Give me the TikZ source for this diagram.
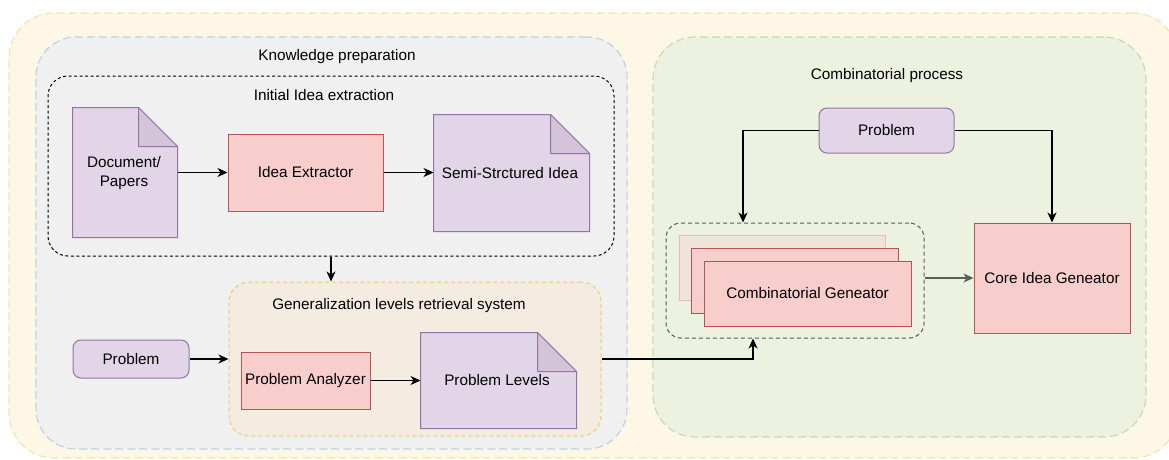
\documentclass[tikz,border=0pt]{standalone}
\usepackage{fontspec}
\setmainfont{Liberation Sans}
\usetikzlibrary{arrows.meta}
\definecolor{yfill}{HTML}{FEF7E6}
\definecolor{ydraw}{HTML}{F3E3B5}
\definecolor{gfill}{HTML}{EFF0EF}
\definecolor{gdraw}{HTML}{C3D1E6}
\definecolor{ofill}{HTML}{F5ECE1}
\definecolor{odraw}{HTML}{F1C86E}
\definecolor{grfill}{HTML}{ECF1E0}
\definecolor{grdraw}{HTML}{C6DDB0}
\definecolor{pfill}{HTML}{E1D5E7}
\definecolor{pdraw}{HTML}{9673A6}
\definecolor{pfold}{HTML}{D3C4DA}
\definecolor{rfill}{HTML}{F8CECC}
\definecolor{rdraw}{HTML}{B85450}
\definecolor{bfill}{HTML}{F0E3DA}
\definecolor{bdraw}{HTML}{E3BEB8}
\definecolor{arrgray}{HTML}{56635A}
\begin{document}
\begin{tikzpicture}[x=1pt,y=-1pt,
  font=\fontsize{15.3}{19.5}\selectfont,
  box/.style={rectangle, inner sep=0pt, line width=1pt},
  container/.style={box, dash pattern=on 8pt off 4pt, line width=1.2pt},
  redbox/.style={box, draw=rdraw, fill=rfill},
  purplebox/.style={box, draw=pdraw, fill=pfill, rounded corners=8pt},
  docnode/.style={box},
  title/.style={inner sep=0pt, text=black},
  arr/.style={-{Stealth[length=10pt,width=9pt,inset=3pt]}, line width=1.2pt, draw=black},
]
\useasboundingbox (0,0) rectangle (1169,460);

% containers
\node[container, draw=ydraw, fill=yfill, rounded corners=45pt, minimum width=1169pt, minimum height=445pt] (outer) at (593.5,235.5) {};
\node[container, draw=gdraw, fill=gfill, rounded corners=40pt, minimum width=591pt, minimum height=412pt] (kp) at (331.5,243) {};
\node[container, draw=grdraw, fill=grfill, rounded corners=42pt, minimum width=493pt, minimum height=400pt] (cp) at (899.5,237) {};
\node[box, draw=black, dash pattern=on 3pt off 2.5pt, rounded corners=20pt, minimum width=566pt, minimum height=180pt] (iie) at (331,166) {};
\node[box, draw=odraw, fill=ofill, dash pattern=on 4pt off 3pt, rounded corners=20pt, minimum width=372pt, minimum height=154pt] (glr) at (415,359) {};
\node[box, draw=black!65, dash pattern=on 4pt off 3pt, rounded corners=15pt, minimum width=258pt, minimum height=115pt] (cg) at (795,280.5) {};

% titles
\node[title] (kpt) at (337,57) {Knowledge preparation};
\node[title] (iiet) at (324,95) {Initial Idea extraction};
\node[title] (glrt) at (399,306) {Generalization levels retrieval system};
\node[title] (cpt) at (887,76) {Combinatorial process};

% documents
\node[docnode, minimum width=104pt, minimum height=129pt] (doc) at (125,172.5) {};
\node[docnode, minimum width=155pt, minimum height=116pt] (semi) at (511.5,173) {};
\node[docnode, minimum width=155pt, minimum height=95pt] (pl) at (498.5,380.5) {};
\foreach \d in {doc,semi,pl}{
  \draw[line width=1pt, draw=pdraw, fill=pfill] (\d.north west) -- ([xshift=-39pt]\d.north east) -- ([yshift=-39pt]\d.north east) -- (\d.south east) -- (\d.south west) -- cycle;
  \draw[line width=1pt, draw=pdraw, fill=pfold, line join=round] ([xshift=-39pt]\d.north east) -- ([xshift=-39pt,yshift=-39pt]\d.north east) -- ([yshift=-39pt]\d.north east) -- cycle;
}
\node[align=center, inner sep=0pt] (doct) at (124,173) {Document/\\Papers};
\node[inner sep=0pt] (semit) at (510,173) {Semi-Strctured Idea};
\node[inner sep=0pt] (plt) at (497,380) {Problem Levels};

% boxes
\node[redbox, minimum width=155pt, minimum height=77pt] (ie) at (305.5,172.5) {Idea Extractor};
\node[purplebox, minimum width=116pt, minimum height=38pt] (prob1) at (131,359) {Problem};
\node[redbox, minimum width=129pt, minimum height=57pt] (pa) at (305.5,380.5) {Problem Analyzer};
\node[purplebox, minimum width=135pt, minimum height=45pt] (prob2) at (886.5,130.5) {Problem};
\node[box, draw=bdraw, fill=bfill, minimum width=206pt, minimum height=65pt] (back) at (782,267.5) {};
\node[redbox, minimum width=207pt, minimum height=65pt] (mid) at (794.5,280.5) {};
\node[redbox, minimum width=207pt, minimum height=65pt] (front) at (807.5,293.5) {Combinatorial Geneator};
\node[redbox, minimum width=156pt, minimum height=110pt] (core) at (1052,278) {Core Idea Geneator};

% connectors
\draw[arr] (doc.east) -- (ie.west);
\draw[arr] (ie.east) -- (ie.east -| semi.west);
\draw[arr] (iie.south) -- (iie.south |- glr.north);
\draw[arr] (prob1.east) -- (glr.west);
\draw[arr] (pa.east) -- (pa.east -| pl.west);
\draw[arr] (glr.east) -| ([xshift=-42pt]cg.south);
\draw[arr] (prob2.west) -| ([xshift=-52pt]cg.north);
\draw[arr] (prob2.east) -| (core.north);
\draw[arr, draw=arrgray] (cg.east |- core.west) -- (core.west);
\end{tikzpicture}
\end{document}
